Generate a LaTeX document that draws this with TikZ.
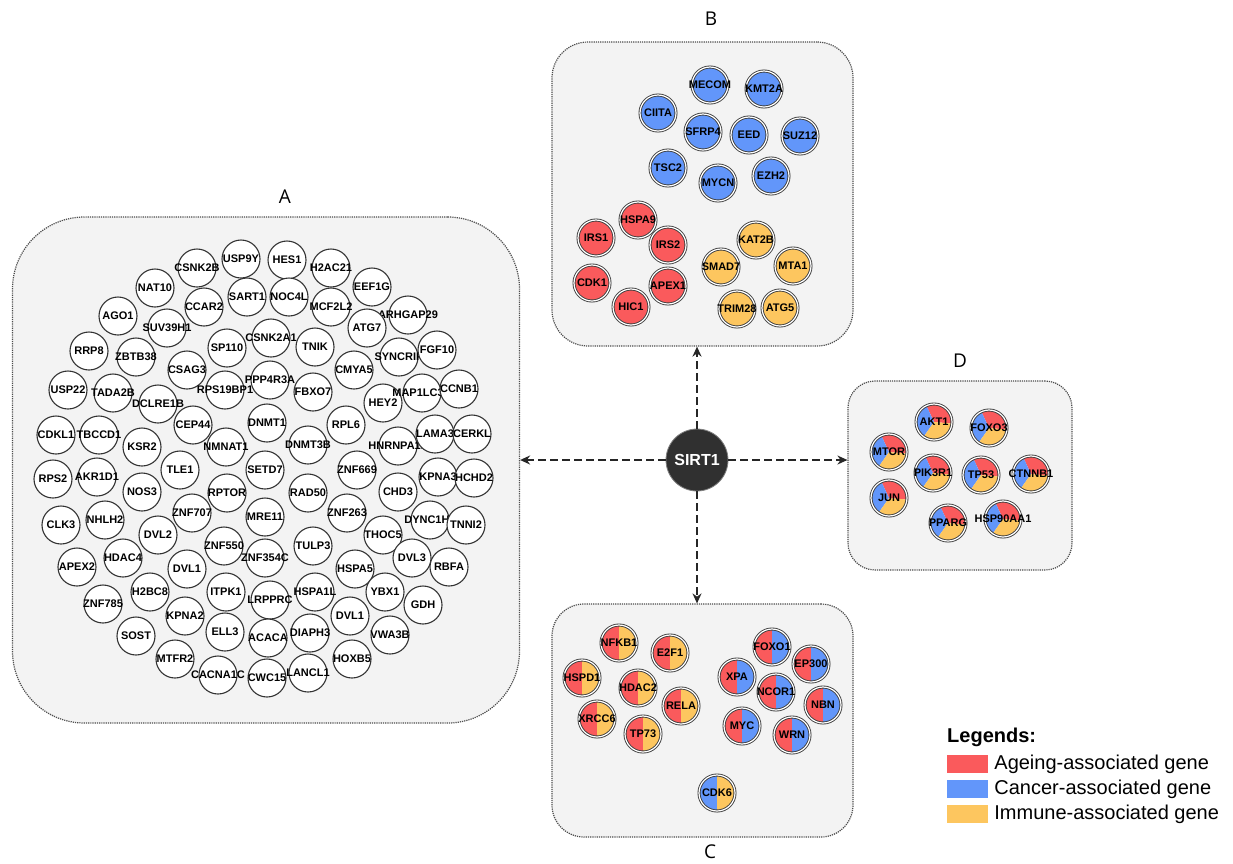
\documentclass[tikz,border=0pt]{standalone}
\usepackage{fontspec}
\setmainfont{Liberation Sans}
\newfontfamily\panelfont{Open Sans}
\usetikzlibrary{arrows.meta,positioning}

\definecolor{agered}{RGB}{250,90,92}
\definecolor{cancerblue}{RGB}{98,150,250}
\definecolor{immuneyellow}{RGB}{253,198,95}
\definecolor{panelgray}{RGB}{243,243,243}
\definecolor{hubgray}{RGB}{48,48,48}

\newcommand\genefont{\fontsize{11}{12}\selectfont\bfseries}

\tikzset{
	panel/.style={draw=black!70, densely dotted, line width=1.2pt, fill=panelgray, rounded corners=#1, inner sep=0pt},
	panellabel/.style={font=\panelfont\fontsize{19}{22}\selectfont},
	gene/.style={circle, draw=black!80, line width=1.1pt, fill=white, minimum size=38pt, inner sep=0pt, font=\genefont,
		execute at begin node={\hbox to 0pt\bgroup\hss}, execute at end node={\hss\egroup}},
	ring/.style={gene, minimum size=36pt, draw=black!75, line width=0.9pt, double=white, double distance=1.2pt, fill=#1},
	halfAI/.style={ring=white, path picture={
		\fill[agered] (path picture bounding box.south west) rectangle (path picture bounding box.north);
		\fill[immuneyellow] (path picture bounding box.south east) rectangle (path picture bounding box.north);}},
	halfAC/.style={ring=white, path picture={
		\fill[agered] (path picture bounding box.south west) rectangle (path picture bounding box.north);
		\fill[cancerblue] (path picture bounding box.south east) rectangle (path picture bounding box.north);}},
	halfCI/.style={ring=white, path picture={
		\fill[cancerblue] (path picture bounding box.south west) rectangle (path picture bounding box.north);
		\fill[immuneyellow] (path picture bounding box.south east) rectangle (path picture bounding box.north);}},
	pie/.style={ring=white, path picture={
		\fill[agered] (path picture bounding box.center) -- ++(-5:25pt) arc[start angle=-5, end angle=115, radius=25pt] -- cycle;
		\fill[cancerblue] (path picture bounding box.center) -- ++(115:25pt) arc[start angle=115, end angle=235, radius=25pt] -- cycle;
		\fill[immuneyellow] (path picture bounding box.center) -- ++(235:25pt) arc[start angle=235, end angle=355, radius=25pt] -- cycle;}},
	hub/.style={circle, fill=hubgray, draw=black!50, line width=0.8pt, minimum size=62pt, inner sep=0pt, text=white, font=\fontsize{16}{18}\selectfont\bfseries},
	link/.style={draw=black!85, dash pattern=on 8pt off 4pt, line width=2.2pt, -{Stealth[length=10pt,width=9pt]}},
	swatch/.style={minimum width=41pt, minimum height=18pt, inner sep=0pt},
	legtext/.style={font=\fontsize{20}{22}\selectfont, inner sep=1pt}
}

\begin{document}
\begin{tikzpicture}[x=1pt, y=-1pt]
			%%%%% START %%%%%
			\useasboundingbox (0,0) rectangle (1233,863);
			\fill[white] (0,0) rectangle (1233,863);
			
			% panels
			\node[panel=72pt, minimum width=507pt, minimum height=506pt] (boxA) at (266,470) {};
			\node[panel=36pt, minimum width=301pt, minimum height=304pt] (boxB) at (702.5,194) {};
			\node[panel=32pt, minimum width=301pt, minimum height=233pt] (boxC) at (702.5,720.5) {};
			\node[panel=27pt, minimum width=224pt, minimum height=189pt] (boxD) at (960,475.5) {};
			
			\node[panellabel] (labA) at (285,197) {A};
			\node[panellabel] (labB) at (711,19) {B};
			\node[panellabel] (labC) at (710,852) {C};
			\node[panellabel] (labD) at (960,361) {D};
			
			% panel A
			\node[gene] (usp9y) at (241,259) {USP9Y};
			\node[gene] (hes1) at (287,260) {HES1};
			\node[gene] (csnk2b) at (197,268) {CSNK2B};
			\node[gene] (h2ac21) at (331,268) {H2AC21};
			\node[gene] (nat10) at (155,288) {NAT10};
			\node[gene] (eef1g) at (372,287) {EEF1G};
			\node[gene] (ccar2) at (204,307) {CCAR2};
			\node[gene] (sart1) at (247,297) {SART1};
			\node[gene] (noc4l) at (289,297) {NOC4L};
			\node[gene] (mcf2l2) at (331,307) {MCF2L2};
			\node[gene] (ago1) at (118,316) {AGO1};
			\node[gene] (suv39h1) at (167,328) {SUV39H1};
			\node[gene] (arhgap29) at (408,315) {ARHGAP29};
			\node[gene] (atg7) at (367,328) {ATG7};
			\node[gene] (rrp8) at (89,351) {RRP8};
			\node[gene] (zbtb38) at (136,357) {ZBTB38};
			\node[gene] (sp110) at (227,348) {SP110};
			\node[gene] (csnk2a1) at (271,338) {CSNK2A1};
			\node[gene] (tnik) at (315,347) {TNIK};
			\node[gene] (syncrip) at (399,357) {SYNCRIP};
			\node[gene] (fgf10) at (437,350) {FGF10};
			\node[gene] (csag3) at (187,370) {CSAG3};
			\node[gene] (cmya5) at (354,370) {CMYA5};
			\node[gene] (usp22) at (68,390) {USP22};
			\node[gene] (tada2b) at (113,393) {TADA2B};
			\node[gene] (ppp4r3a) at (270,380) {PPP4R3A};
			\node[gene] (rps19bp1) at (225,390) {RPS19BP1};
			\node[gene] (fbxo7) at (313,392) {FBXO7};
			\node[gene] (dclre1b) at (158,404) {DCLRE1B};
			\node[gene] (hey2) at (383,403) {HEY2};
			\node[gene] (map1lc3b) at (422,393) {MAP1LC3B};
			\node[gene] (ccnb1) at (459,389) {CCNB1};
			\node[gene] (cep44) at (193,425) {CEP44};
			\node[gene] (dnmt1) at (267,423) {DNMT1};
			\node[gene] (rpl6) at (346,425) {RPL6};
			\node[gene] (cdkl1) at (56,435) {CDKL1};
			\node[gene] (tbccd1) at (99,435) {TBCCD1};
			\node[gene] (ksr2) at (142,447) {KSR2};
			\node[gene] (nmnat1) at (226,447) {NMNAT1};
			\node[gene] (dnmt3b) at (308,445) {DNMT3B};
			\node[gene] (hnrnpa1l) at (398,446) {HNRNPA1L};
			\node[gene] (lama3) at (435,434) {LAMA3};
			\node[gene] (cerkl) at (472,434) {CERKL};
			\node[gene] (tle1) at (180,470) {TLE1};
			\node[gene] (setd7) at (265,470) {SETD7};
			\node[gene] (znf669) at (357,470) {ZNF669};
			\node[gene] (kpna3) at (438,477) {KPNA3};
			\node[gene] (hchd2) at (474,478) {HCHD2};
			\node[gene] (rps2) at (53,479) {RPS2};
			\node[gene] (akr1d1) at (97,477) {AKR1D1};
			\node[gene] (nos3) at (142,492) {NOS3};
			\node[gene] (rptor) at (227,493) {RPTOR};
			\node[gene] (rad50) at (308,493) {RAD50};
			\node[gene] (chd3) at (398,492) {CHD3};
			\node[gene] (clk3) at (61,525) {CLK3};
			\node[gene] (nhlh2) at (105,520) {NHLH2};
			\node[gene] (znf707) at (192,513) {ZNF707};
			\node[gene] (mre11) at (265,517) {MRE11};
			\node[gene] (znf263) at (347,513) {ZNF263};
			\node[gene] (dync1h1) at (430,520) {DYNC1H1};
			\node[gene] (tnni2) at (466,525) {TNNI2};
			\node[gene] (dvl2) at (158,535) {DVL2};
			\node[gene] (thoc5) at (383,535) {THOC5};
			\node[gene] (znf550) at (224,546) {ZNF550};
			\node[gene] (tulp3) at (313,546) {TULP3};
			\node[gene] (znf354c) at (265,558) {ZNF354C};
			\node[gene] (apex2) at (77,567) {APEX2};
			\node[gene] (hdac4) at (123,558) {HDAC4};
			\node[gene] (dvla) at (187,569) {DVL1};
			\node[gene] (hspa5) at (355,569) {HSPA5};
			\node[gene] (dvl3) at (412,558) {DVL3};
			\node[gene] (rbfa) at (449,567) {RBFA};
			\node[gene] (h2bc8) at (150,592) {H2BC8};
			\node[gene] (itpk1) at (226,592) {ITPK1};
			\node[gene] (hspa1l) at (315,592) {HSPA1L};
			\node[gene] (ybx1) at (385,592) {YBX1};
			\node[gene] (lrpprc) at (270,600) {LRPPRC};
			\node[gene] (znf785) at (103,604) {ZNF785};
			\node[gene] (kpna2) at (185,616) {KPNA2};
			\node[gene] (dvlb) at (350,616) {DVL1};
			\node[gene] (gdh) at (423,605) {GDH};
			\node[gene] (sost) at (136,636) {SOST};
			\node[gene] (ell3) at (225,632) {ELL3};
			\node[gene] (acaca) at (268,638) {ACACA};
			\node[gene] (diaph3) at (310,633) {DIAPH3};
			\node[gene] (vwa3b) at (390,635) {VWA3B};
			\node[gene] (mtfr2) at (175,659) {MTFR2};
			\node[gene] (hoxb5) at (352,659) {HOXB5};
			\node[gene] (cacna1c) at (218,675) {CACNA1C};
			\node[gene] (cwc15) at (267,678) {CWC15};
			\node[gene] (lancl1) at (308,673) {LANCL1};
			
			% panel B
			\node[ring=cancerblue] (mecom) at (710,85) {MECOM};
			\node[ring=cancerblue] (kmt2a) at (764,89) {KMT2A};
			\node[ring=cancerblue] (ciita) at (658,113) {CIITA};
			\node[ring=cancerblue] (sfrp4) at (703,132) {SFRP4};
			\node[ring=cancerblue] (eed) at (749,135) {EED};
			\node[ring=cancerblue] (suz12) at (800,136) {SUZ12};
			\node[ring=cancerblue] (tsc2) at (668,168) {TSC2};
			\node[ring=cancerblue] (mycn) at (718,183) {MYCN};
			\node[ring=cancerblue] (ezh2) at (771,176) {EZH2};
			
			\node[ring=agered] (hspa9) at (638,220) {HSPA9};
			\node[ring=agered] (irs1) at (596,238) {IRS1};
			\node[ring=agered] (irs2) at (668,245) {IRS2};
			\node[ring=agered] (cdk1) at (592,283) {CDK1};
			\node[ring=agered] (apex1) at (668,286) {APEX1};
			\node[ring=agered] (hic1) at (631,307) {HIC1};
			
			\node[ring=immuneyellow] (kat2b) at (756,240) {KAT2B};
			\node[ring=immuneyellow] (mta1) at (793,266) {MTA1};
			\node[ring=immuneyellow] (smad7) at (721,267) {SMAD7};
			\node[ring=immuneyellow] (trim28) at (737,309) {TRIM28};
			\node[ring=immuneyellow] (atg5) at (780,308) {ATG5};
			
			% panel C
			\node[halfAI] (nfkb1) at (619,643) {NFKB1};
			\node[halfAI] (e2f1) at (670,653) {E2F1};
			\node[halfAI] (hspd1) at (582,678) {HSPD1};
			\node[halfAI] (hdac2) at (638,688) {HDAC2};
			\node[halfAI] (rela) at (681,706) {RELA};
			\node[halfAI] (xrcc6) at (597,719) {XRCC6};
			\node[halfAI] (tp73) at (643,734) {TP73};
			
			\node[halfAC] (foxo1) at (772,647) {FOXO1};
			\node[halfAC] (ep300) at (811,664) {EP300};
			\node[halfAC] (xpa) at (737,677) {XPA};
			\node[halfAC] (ncor1) at (776,692) {NCOR1};
			\node[halfAC] (nbn) at (823,705) {NBN};
			\node[halfAC] (myc) at (742,726) {MYC};
			\node[halfAC] (wrn) at (792,735) {WRN};
			
			\node[halfCI] (cdk6) at (717,793) {CDK6};
			
			% panel D
			\node[pie] (akt1) at (934,422) {AKT1};
			\node[pie] (foxo3) at (989,428) {FOXO3};
			\node[pie] (mtor) at (889,452) {MTOR};
			\node[pie] (pik3r1) at (933,473) {PIK3R1};
			\node[pie] (tp53) at (981,475) {TP53};
			\node[pie] (ctnnb1) at (1031,474) {CTNNB1};
			\node[pie] (jun) at (889,498) {JUN};
			\node[pie] (pparg) at (948,523) {PPARG};
			\node[pie] (hsp90aa1) at (1003,519) {HSP90AA1};
			
			% hub and arrows
			\node[hub] (sirt) at (697,460) {SIRT1};
			\draw[link] (sirt) -- (sirt |- boxB.south);
			\draw[link] (sirt) -- (sirt |- boxC.north);
			\draw[link] (sirt) -- (boxA.east |- sirt);
			\draw[link] (sirt) -- (boxD.west |- sirt);
			
			% legend
			\node[anchor=west, inner sep=0pt, font=\fontsize{20}{22}\selectfont\bfseries] (legtitle) at (947,737) {Legends:};
			\node[swatch, fill=agered] (swAge) at (967.5,764) {};
			\node[swatch, fill=cancerblue] (swCan) at (967.5,789) {};
			\node[swatch, fill=immuneyellow] (swImm) at (967.5,814) {};
			\node[legtext, right=5pt of swAge] (txAge) {Ageing-associated gene};
			\node[legtext, right=5pt of swCan] (txCan) {Cancer-associated gene};
			\node[legtext, right=5pt of swImm] (txImm) {Immune-associated gene};
			
			%%%%% END %%%%%
\end{tikzpicture}
\end{document}
